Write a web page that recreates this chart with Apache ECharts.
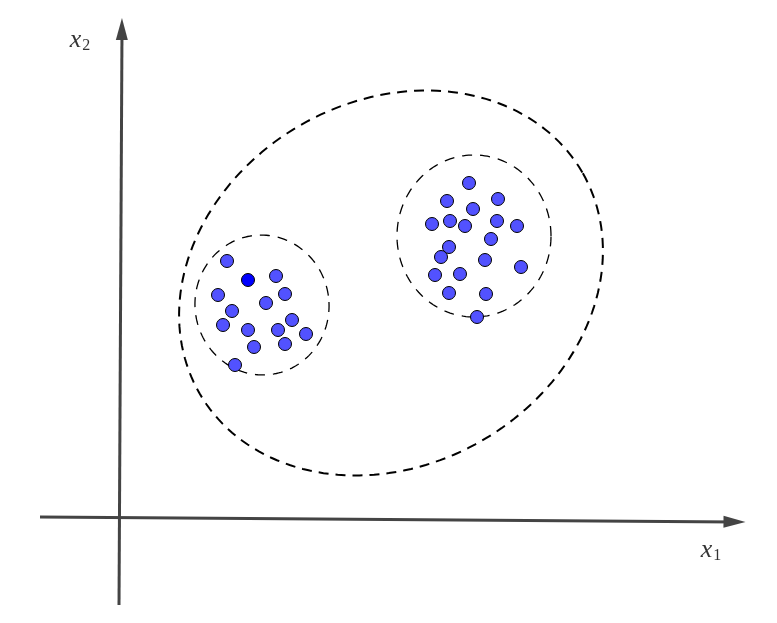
<!DOCTYPE html>
<html>
<head>
<meta charset="utf-8">
<script src="https://cdn.jsdelivr.net/npm/echarts@6/dist/echarts.min.js"></script>
<style>html,body{margin:0;padding:0;background:#fff}#c{width:777px;height:623px}</style>
</head>
<body>
<div id="c"></div>
<script>
// Cluster 1 (left)
var leftX = [108, 157, 99, 166, 147, 113, 173, 104, 129, 159, 187, 135, 166, 116];
var leftY = [256, 241, 222, 223, 214, 206, 197, 192, 187, 187, 183, 170, 173, 152];
// highlighted point
var highlightX = [129];
var highlightY = [237];
// Cluster 2 (right)
var rightX = [350, 328, 379, 354, 313, 331, 346, 378, 398, 372, 330, 322, 366, 402, 316, 341, 330, 367, 358];
var rightY = [334, 316, 318, 308, 293, 296, 291, 296, 291, 278, 270, 260, 257, 250, 242, 243, 224, 223, 200];
// Ellipses: [cx, cy, rx, ry, rotationDeg]
var bigEllipse = [[272, 234, 221, 182, 30]];
var smallEllipses = [[143, 212, 67, 70, 8], [355, 281, 77, 81, 0]];
// Axis lines (from, to) and arrow heads [x, y, rotation]
var xAxisLine = [[-79, 0], [616, -5]];
var yAxisLine = [[0, -88], [3, 489]];
var arrowHeads = [[615.5, -4.9, -90.4], [2.9, 488, -0.3]];
var axisLabels = [
  {value: [-39, 477], text: '{i|x}{s|2}'},
  {value: [592, -33], text: '{i|x}{s|1}'}
];

function zip(xs, ys) { return xs.map(function (x, i) { return [x, ys[i]]; }); }

function ellipseRenderer(width, dash) {
  return function (params, api) {
    var cx = api.value(0), cy = api.value(1), rx = api.value(2), ry = api.value(3);
    var th = api.value(4) * Math.PI / 180;
    var pts = [];
    var n = 180;
    for (var k = 0; k < n; k++) {
      var t = 2 * Math.PI * k / n;
      var u = rx * Math.cos(t), v = ry * Math.sin(t);
      pts.push(api.coord([cx + u * Math.cos(th) - v * Math.sin(th), cy + u * Math.sin(th) + v * Math.cos(th)]));
    }
    return {
      type: 'polygon',
      shape: {points: pts},
      style: {fill: 'none', stroke: '#000', lineWidth: width, lineDash: dash}
    };
  };
}

var chart = echarts.init(document.getElementById('c'));
chart.setOption({
  animation: false,
  grid: {left: 0, right: 0, top: 0, bottom: 0},
  xAxis: {type: 'value', min: -119, max: 658, show: false},
  yAxis: {type: 'value', min: -106, max: 517, show: false},
  series: [
    {
      type: 'lines', coordinateSystem: 'cartesian2d',
      symbol: 'none',
      lineStyle: {color: '#444', width: 3, opacity: 1},
      data: [{coords: xAxisLine}, {coords: yAxisLine}],
      silent: true, z: 1
    },
    {
      type: 'scatter', symbol: 'triangle', symbolSize: [12, 22],
      symbolRotate: function (v) { return v[2]; },
      itemStyle: {color: '#444', opacity: 1},
      data: arrowHeads, silent: true, z: 1
    },
    {
      type: 'custom', renderItem: ellipseRenderer(2, [10, 7]),
      data: bigEllipse, silent: true, z: 2
    },
    {
      type: 'custom', renderItem: ellipseRenderer(1.3, [10, 8]),
      data: smallEllipses, silent: true, z: 2
    },
    {
      type: 'scatter', symbolSize: 13,
      itemStyle: {color: '#5252ff', borderColor: '#000', borderWidth: 1, opacity: 1},
      data: zip(leftX, leftY).concat(zip(rightX, rightY)), z: 3
    },
    {
      type: 'scatter', symbolSize: 13,
      itemStyle: {color: '#0000ff', borderColor: '#000', borderWidth: 1, opacity: 1},
      data: zip(highlightX, highlightY), z: 3
    },
    {
      type: 'scatter', symbolSize: 1,
      itemStyle: {color: 'rgba(0,0,0,0)'},
      label: {
        show: true, position: 'inside', color: '#000', textBorderWidth: 0,
        formatter: function (p) { return p.data.text; },
        rich: {
          i: {fontFamily: 'Liberation Serif', fontStyle: 'italic', fontSize: 26, color: '#000', textBorderWidth: 0},
          s: {fontFamily: 'Liberation Serif', fontSize: 16, color: '#000', textBorderWidth: 0, padding: [12, 0, 0, 1]}
        }
      },
      data: axisLabels, silent: true, z: 4
    }
  ]
});
</script>
</body>
</html>
